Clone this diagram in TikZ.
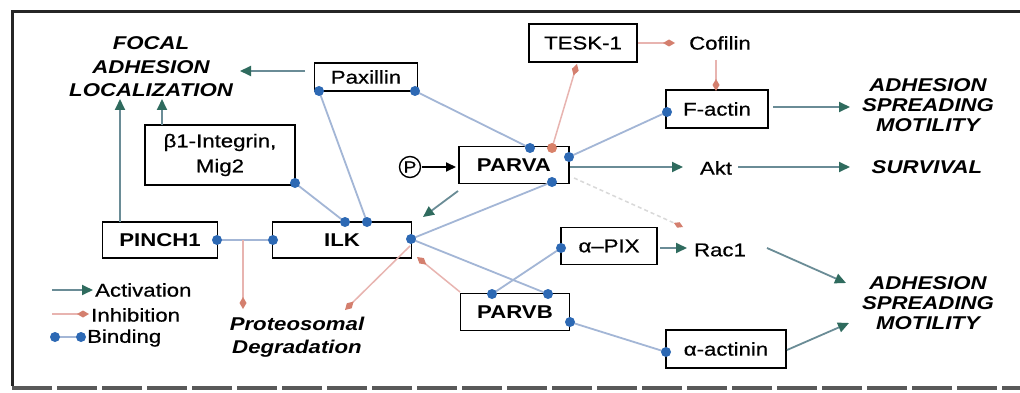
\documentclass[tikz,border=0pt]{standalone}
\usepackage{fontspec}
\setmainfont[FakeStretch=1.2, UprightFeatures={FakeBold=0.6}]{Liberation Sans}
\usetikzlibrary{arrows.meta}
\definecolor{bindc}{HTML}{A3B6D6}
\definecolor{dotc}{HTML}{2D69B4}
\definecolor{actc}{HTML}{6A8C96}
\definecolor{actt}{HTML}{2F6B5E}
\definecolor{inhc}{HTML}{E8B4B0}
\definecolor{inht}{HTML}{D47F6E}
\definecolor{redot}{HTML}{D9826A}
\newcommand\fsz{\fontsize{18.5}{23}\selectfont}
\tikzset{
  box/.style={draw=black, line width=1.7pt, fill=white, inner sep=0pt, font=\fsz},
  bbox/.style={box, font=\fsz\bfseries},
  lab/.style={font=\fsz\bfseries\itshape, align=center, inner sep=0pt},
  plain/.style={font=\fsz, inner sep=0pt},
  bind/.style={draw=bindc, line width=1.8pt},
  act/.style={draw=actc, line width=1.8pt, -{Triangle[length=11pt,width=10pt,color=actt]}},
  blk/.style={draw=black, line width=1.8pt, -{Triangle[length=10pt,width=9pt,color=black]}},
  inh/.style={draw=inhc, line width=1.5pt, -{Diamond[length=12pt,width=7pt,color=inht]}},
  faint/.style={draw=black!15, line width=1.5pt, dash pattern=on 4pt off 3pt, -{Diamond[length=10pt,width=6pt,color=inht]}},
  dotn/.style={circle, fill=dotc, inner sep=0pt, minimum size=10pt},
  rdot/.style={circle, fill=redot, inner sep=0pt, minimum size=10pt},
}
\begin{document}
\begin{tikzpicture}[x=1pt,y=-1pt]
\useasboundingbox (0,0) rectangle (1020,393);
\fill[white] (0,0) rectangle (1020,393);
% frame
\coordinate (f1) at (12,12); \coordinate (f2) at (1020,12); \coordinate (f3) at (12,386);
\coordinate (f4) at (12,388); \coordinate (f5) at (1020,388);
\draw[line width=3pt, black!85] (f2) -- (f1) -- (f3);
\draw[line width=4pt, black!65, dash pattern=on 40pt off 5pt] (f4) -- (f5);

% boxes
\node[box, minimum width=103pt, minimum height=28pt] (pax) at (366,77) {Paxillin};
\node[box, minimum width=150pt, minimum height=60pt, align=center, font=\fontsize{18.5}{25}\selectfont] (beta) at (220,155) {β1-Integrin,\\Mig2};
\node[bbox, minimum width=115pt, minimum height=36pt] (pinch) at (160,240) {PINCH1};
\node[bbox, minimum width=139pt, minimum height=36pt] (ilk) at (342,240) {ILK};
\node[bbox, minimum width=110pt, minimum height=37pt] (parva) at (514,165) {PARVA};
\node[box, minimum width=108pt, minimum height=38pt] (tesk) at (583,43) {TESK-1};
\node[box, minimum width=102pt, minimum height=38pt] (factin) at (717,109) {F-actin};
\node[box, minimum width=96pt, minimum height=37pt] (apix) at (609,246) {α–PIX};
\node[bbox, minimum width=109pt, minimum height=37pt] (parvb) at (515,312) {PARVB};
\node[box, minimum width=120pt, minimum height=38pt] (aact) at (726,349) {α-actinin};

% labels
\node[lab, font=\fontsize{18.5}{23.5}\selectfont\bfseries\itshape] (fal) at (151,67) {FOCAL\\ADHESION\\LOCALIZATION};
\node[plain] (cof) at (720,43) {Cofilin};
\node[plain] (akt) at (716,168) {Akt};
\node[lab] (surv) at (927,167) {SURVIVAL};
\node[lab, font=\fontsize{18.5}{20}\selectfont\bfseries\itshape] (asm1) at (928,105) {ADHESION\\SPREADING\\MOTILITY};
\node[plain] (rac) at (720,250) {Rac1};
\node[lab, font=\fontsize{18.5}{20}\selectfont\bfseries\itshape] (asm2) at (928,303) {ADHESION\\SPREADING\\MOTILITY};
\node[lab] (prot) at (297,337) {Proteosomal\\Degradation};
\node[circle, draw=black, line width=1.4pt, inner sep=0pt, minimum size=21pt, font=\fontsize{16}{16}\selectfont] (pp) at (410,167) {P};

% coordinates for connector ends
\coordinate (paxW) at (305,71);   \coordinate (falE) at (240,71);
\coordinate (betaT) at (162,125); \coordinate (falB1) at (162,99);
\coordinate (pinchT) at (120,222); \coordinate (falB2) at (120,99);
\coordinate (ppE) at (422,167);   \coordinate (parvaW) at (456,167);
\coordinate (parvaSW) at (458,191); \coordinate (ilkNE) at (423,217);
\coordinate (parvaE) at (570,167); \coordinate (aktW) at (683,167);
\coordinate (aktE) at (738,167);  \coordinate (survW) at (850,167);
\coordinate (factE) at (773,107); \coordinate (asm1W) at (850,107);
\coordinate (apixE) at (660,248); \coordinate (racW) at (687,248);
\coordinate (racE) at (767,248);  \coordinate (asm2NW) at (846,283);
\coordinate (aactE) at (787,350); \coordinate (asm2SW) at (849,323);
% inhibition ends
\coordinate (teskE) at (638,43);  \coordinate (cofW) at (675,43);
\coordinate (cofS) at (716,60);   \coordinate (factN) at (716,91);
\coordinate (teskS) at (577,64);
\coordinate (pimid) at (243,240); \coordinate (protA) at (243,309);
\coordinate (ilkR2) at (410,246); \coordinate (protB) at (345,310);
\coordinate (parvbNW) at (460,292); \coordinate (ilkSE) at (417,257);
\coordinate (parvaSE) at (574,178); \coordinate (racNW) at (683,227);
% binding dots
\coordinate (dPaxL) at (319,91);  \coordinate (dPaxR) at (415,91);
\coordinate (dBeta) at (295,183);
\coordinate (dIlkT1) at (345,222); \coordinate (dIlkT2) at (367,222);
\coordinate (dIlkL) at (273,240); \coordinate (dIlkR) at (411,239);
\coordinate (dPinR) at (217,240);
\coordinate (dPaT) at (530,148);  \coordinate (dPaRed) at (552,148);
\coordinate (dPaR) at (569,157);  \coordinate (dPaB) at (552,182);
\coordinate (dFac) at (667,112);  \coordinate (dApix) at (561,248);
\coordinate (dPbL) at (492,294);  \coordinate (dPbR) at (548,294);
\coordinate (dPbE) at (570,322);  \coordinate (dAact) at (666,352);
% legend coordinates
\coordinate (la1) at (52,290); \coordinate (la2) at (93,290);
\coordinate (li1) at (52,314); \coordinate (li2) at (89,314);
\coordinate (lb1) at (55,337); \coordinate (lb2) at (81,337);

% binding lines
\draw[bind] (dPaxL) -- (dIlkT2);
\draw[bind] (dPaxR) -- (dPaT);
\draw[bind] (dBeta) -- (dIlkT1);
\draw[bind] (dPinR) -- (dIlkL);
\draw[bind] (dIlkR) -- (dPaB);
\draw[bind] (dIlkR) -- (dPbR);
\draw[bind] (dPaR) -- (dFac);
\draw[bind] (dPbL) -- (dApix);
\draw[bind] (dPbE) -- (dAact);
\draw[bind] (lb1) -- (lb2);

% inhibition
\draw[inh] (teskE) -- (cofW);
\draw[inh] (cofS) -- (factN);
\draw[inh] (dPaRed) -- (teskS);
\draw[inh] (pimid) -- (protA);
\draw[inh] (ilkR2) -- (protB);
\draw[inh] (parvbNW) -- (ilkSE);
\draw[faint] (parvaSE) -- (racNW);
\draw[inh] (li1) -- (li2);

% activation
\draw[act] (paxW) -- (falE);
\draw[act] (betaT) -- (falB1);
\draw[act] (pinchT) -- (falB2);
\draw[blk] (ppE) -- (parvaW);
\draw[act] (parvaSW) -- (ilkNE);
\draw[act] (parvaE) -- (aktW);
\draw[act] (aktE) -- (survW);
\draw[act] (factE) -- (asm1W);
\draw[act] (apixE) -- (racW);
\draw[act] (racE) -- (asm2NW);
\draw[act] (aactE) -- (asm2SW);
\draw[act] (la1) -- (la2);

% dots
\foreach \d in {dPaxL,dPaxR,dBeta,dIlkT1,dIlkT2,dIlkL,dIlkR,dPinR,dPaT,dPaR,dPaB,dFac,dApix,dPbL,dPbR,dPbE,dAact,lb1,lb2}
  \node[dotn] at (\d) {};
\node[rdot] at (dPaRed) {};

% legend text
\node[plain, anchor=west] (tact) at (95,290) {Activation};
\node[plain, anchor=west] (tinh) at (91,315) {Inhibition};
\node[plain, anchor=west] (tbind) at (87,338) {Binding};
\end{tikzpicture}
\end{document}
